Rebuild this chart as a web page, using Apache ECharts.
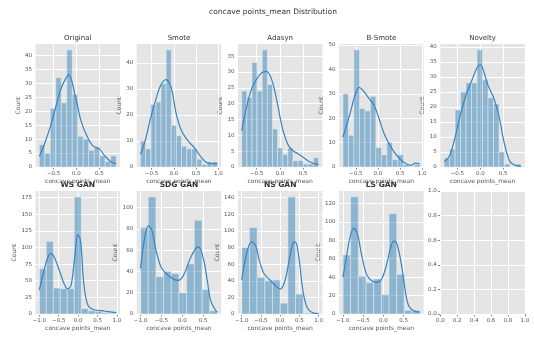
<!DOCTYPE html>
<html>
<head>
<meta charset="utf-8">
<script src="https://cdn.jsdelivr.net/npm/echarts@6/dist/echarts.min.js"></script>
<style>
  html, body { margin: 0; padding: 0; background: #ffffff; }
  #chart { width: 534px; height: 338px; }
</style>
</head>
<body>
<div id="chart"></div>
<script>
// Histogram counts per method (concave points_mean, scaled feature)
const panelTitles = ['Original', 'Smote', 'Adasyn', 'B-Smote', 'Novelty', 'WS GAN', 'SDG GAN', 'NS GAN', 'LS GAN'];
const binStart = [-0.811, -0.746, -0.819, -0.79, -0.79, -1.0, -1.0, -1.0, -1.0];
const binWidth = [0.12, 0.115, 0.11, 0.124, 0.12, 0.18, 0.184, 0.2, 0.19];

const countsOriginal = [8, 5, 21, 32, 23, 42, 26, 11, 10, 6, 7, 4, 2, 4];
const countsSmote    = [10, 7, 24, 25, 32, 45, 16, 12, 8, 7, 7, 3, 1, 2, 2];
const countsAdasyn   = [24, 22, 33, 24, 37, 26, 12, 6, 4, 6, 2, 2, 1, 1, 3];
const countsBSmote   = [30, 13, 48, 24, 23, 29, 8, 5, 10, 3, 5, 1, 0, 1];
const countsNovelty  = [3, 6, 19, 25, 28, 28, 39, 29, 23, 21, 5, 1, 0, 1];
const countsWSGAN    = [68, 109, 39, 38, 38, 176, 8, 5, 4, 2, 1];
const countsSDGGAN   = [81, 110, 35, 40, 38, 20, 47, 88, 23, 3];
const countsNSGAN    = [80, 104, 44, 40, 41, 13, 141, 24, 1, 1];
const countsLSGAN    = [64, 127, 41, 34, 38, 21, 109, 43, 4, 4];

// Density curves scaled to counts: [x, count]
const kdeOriginal = [[-0.811,3.8],[-0.685,8.9],[-0.574,14.3],[-0.463,20.8],[-0.352,27.4],[-0.241,31.5],[-0.167,33],[-0.019,25],[0.093,17],[0.204,12],[0.352,7.7],[0.5,6.5],[0.611,4.2],[0.759,1.8],[0.869,1.2]];
const kdeSmote = [[-0.746,4.9],[-0.638,10.3],[-0.523,18.6],[-0.408,25.6],[-0.292,31.4],[-0.177,33.6],[-0.062,30.8],[0.054,20.5],[0.169,14.1],[0.308,10.3],[0.462,7.4],[0.615,3.8],[0.769,1.5],[0.979,1.3]];
const kdeAdasyn = [[-0.819,11.5],[-0.717,18.8],[-0.609,24.6],[-0.5,27.7],[-0.391,29.8],[-0.283,30.1],[-0.167,27.2],[-0.058,20.4],[0.051,12.5],[0.167,7.3],[0.275,5.2],[0.384,4.2],[0.5,3.1],[0.609,1.9],[0.754,1.0],[0.831,0.8]];
const kdeBSmote = [[-0.79,12.3],[-0.64,21.2],[-0.515,29.5],[-0.425,32.6],[-0.312,30.8],[-0.2,28.1],[-0.087,25.3],[0.026,19.9],[0.139,13.7],[0.252,9.6],[0.365,6.2],[0.492,3.4],[0.628,1.4],[0.74,0.7],[0.853,1.6],[0.946,1.2]];
const kdeNovelty = [[-0.79,1.7],[-0.667,3.9],[-0.551,9.9],[-0.428,17.7],[-0.304,24.3],[-0.188,28.7],[-0.065,33.2],[0.0,34],[0.051,33],[0.174,27],[0.29,23.2],[0.413,16.6],[0.529,7.7],[0.652,1.7],[0.775,0.5],[0.89,0.2]];
const kdeWSGAN = [[-1.0,36],[-0.882,65],[-0.795,83],[-0.707,91],[-0.62,86],[-0.489,66],[-0.358,45],[-0.271,38],[-0.183,43],[-0.096,81],[-0.009,119],[0.061,111],[0.148,45],[0.253,13],[0.428,6],[0.603,5],[0.777,3.5],[0.98,2]];
const kdeSDGGAN = [[-1.0,42.6],[-0.918,67.8],[-0.811,83],[-0.73,79],[-0.631,60],[-0.508,44],[-0.385,38],[-0.221,33],[-0.098,31.5],[0.025,36],[0.189,52],[0.311,61],[0.393,63],[0.516,50],[0.598,31.5],[0.68,12.6],[0.803,3],[0.84,2]];
const kdeNSGAN = [[-1.0,41],[-0.892,68.5],[-0.75,86.7],[-0.642,82.7],[-0.542,64.5],[-0.417,48.4],[-0.25,40.3],[-0.083,32.3],[0.0,30],[0.125,40],[0.25,68.5],[0.333,84.7],[0.392,86.7],[0.475,72.6],[0.558,40],[0.625,20],[0.725,6],[0.875,1],[1.0,0.5]];
const kdeLSGAN = [[-1.0,39.7],[-0.917,61],[-0.817,85],[-0.733,92.8],[-0.642,86.6],[-0.542,65],[-0.417,43],[-0.292,36],[-0.167,34.3],[-0.042,38],[0.083,54],[0.192,74],[0.267,79.4],[0.35,74],[0.458,50.5],[0.542,25],[0.625,9],[0.75,3.6],[0.9,2]];

// Tick positions per panel (last entry is the empty axes)
const xTicks = [
  [-0.5, 0, 0.5], [-0.5, 0, 0.5, 1], [-0.5, 0, 0.5], [-0.5, 0, 0.5, 1], [-0.5, 0, 0.5],
  [-1, -0.5, 0, 0.5, 1], [-1, -0.5, 0, 0.5], [-1, -0.5, 0, 0.5, 1], [-1, -0.5, 0, 0.5], [0, 0.2, 0.4, 0.6, 0.8, 1]
];
const yTicks = [
  [0, 5, 10, 15, 20, 25, 30, 35, 40], [0, 10, 20, 30, 40], [0, 5, 10, 15, 20, 25, 30, 35],
  [0, 10, 20, 30, 40, 50], [0, 5, 10, 15, 20, 25, 30, 35, 40],
  [0, 25, 50, 75, 100, 125, 150, 175], [0, 20, 40, 60, 80, 100], [0, 20, 40, 60, 80, 100, 120, 140],
  [0, 20, 40, 60, 80, 100, 120], [0, 0.2, 0.4, 0.6, 0.8, 1]
];

const allCounts = [countsOriginal, countsSmote, countsAdasyn, countsBSmote, countsNovelty, countsWSGAN, countsSDGGAN, countsNSGAN, countsLSGAN];
const allKde = [kdeOriginal, kdeSmote, kdeAdasyn, kdeBSmote, kdeNovelty, kdeWSGAN, kdeSDGGAN, kdeNSGAN, kdeLSGAN];

const FONT = 'DejaVu Sans';
const TICK_COLOR = '#555555';
const BAR_FILL = 'rgba(31,119,180,0.45)';
const LINE_COLOR = '#3784c0';

const chart = echarts.init(document.getElementById('chart'), null, { renderer: 'canvas' });

const grids = [], xAxes = [], yAxes = [], series = [], graphics = [];
const colLeft = c => 35.5 + 101.2 * c;
const rowTop = [44, 191];
const W = 84.5, H = 123;

function fmt(decimals) {
  return v => Number(v).toFixed(decimals).replace('-', '\u2212');
}

for (let i = 0; i < 10; i++) {
  const r = Math.floor(i / 5), c = i % 5;
  const left = colLeft(c), top = rowTop[r];
  grids.push({ left, top, width: W, height: H, backgroundColor: '#E5E5E5', show: true, borderWidth: 0 });

  let xmin, xmax, ymax;
  if (i < 9) {
    const n = allCounts[i].length;
    const lo = binStart[i], hi = binStart[i] + n * binWidth[i];
    const pad = 0.05 * (hi - lo);
    xmin = lo - pad; xmax = hi + pad;
    ymax = 1.05 * Math.max(...allCounts[i]);
  } else {
    xmin = 0; xmax = 1; ymax = 1;
  }

  const isEmpty = i === 9;
  xAxes.push({
    type: 'value', gridIndex: i, min: xmin, max: xmax,
    axisLine: { show: false },
    axisTick: { show: true, customValues: xTicks[i], length: 2.5, lineStyle: { color: TICK_COLOR, width: 0.7 } },
    axisLabel: { customValues: xTicks[i], fontSize: 5.5, fontFamily: FONT, color: TICK_COLOR, margin: 3.5, formatter: fmt(1) },
    splitLine: { show: false },
    name: isEmpty ? '' : 'concave points_mean', nameLocation: 'middle', nameGap: 11,
    nameTextStyle: { fontSize: 6, fontFamily: FONT, color: TICK_COLOR }
  });
  yAxes.push({
    type: 'value', gridIndex: i, min: 0, max: ymax,
    axisLine: { show: false },
    axisTick: { show: true, customValues: yTicks[i], length: 2.5, lineStyle: { color: TICK_COLOR, width: 0.7 } },
    axisLabel: { customValues: yTicks[i], fontSize: 5.5, fontFamily: FONT, color: TICK_COLOR, margin: 3.5, formatter: fmt(isEmpty ? 1 : 0) },
    splitLine: { show: false },
    name: isEmpty ? '' : 'Count', nameLocation: 'middle', nameGap: 12,
    nameTextStyle: { fontSize: 6, fontFamily: FONT, color: TICK_COLOR }
  });

  // White grid lines at the tick positions (markLine keeps its default layer; bars sit above it)
  series.push({
    type: 'line', xAxisIndex: i, yAxisIndex: i, data: [], silent: true,
    markLine: {
      silent: true, symbol: 'none', animation: false,
      label: { show: false },
      lineStyle: { color: '#ffffff', width: 1, type: 'solid', opacity: 1 },
      emphasis: { disabled: true },
      data: xTicks[i].map(v => ({ xAxis: v })).concat(yTicks[i].map(v => ({ yAxis: v })))
    }
  });

  if (i < 9) {
    const bars = allCounts[i]
      .map((cnt, k) => [binStart[i] + k * binWidth[i], binStart[i] + (k + 1) * binWidth[i], cnt])
      .filter(d => d[2] > 0);
    series.push({
      type: 'custom', xAxisIndex: i, yAxisIndex: i, data: bars,
      encode: { x: [0, 1], y: 2 },
      renderItem: (params, api) => {
        const p0 = api.coord([api.value(0), api.value(2)]);
        const p1 = api.coord([api.value(1), 0]);
        return {
          type: 'rect',
          shape: { x: p0[0], y: p0[1], width: p1[0] - p0[0], height: p1[1] - p0[1] },
          style: { fill: BAR_FILL, stroke: 'rgba(240,240,240,0.85)', lineWidth: 0.6 }
        };
      },
      z: 8, silent: true
    });
    series.push({
      type: 'line', xAxisIndex: i, yAxisIndex: i, data: allKde[i],
      smooth: 0.35, symbol: 'none', silent: true,
      lineStyle: { color: LINE_COLOR, width: 1.2 }, z: 9
    });

    graphics.push({
      type: 'text', x: left + W / 2, y: top - 6,
      style: {
        text: panelTitles[i], fontSize: r === 0 ? 7 : 7.5, fontWeight: r === 0 ? 'normal' : 'bold',
        fontFamily: FONT, fill: '#333333', align: 'center', verticalAlign: 'middle'
      }
    });
  }
}

graphics.push({
  type: 'text', x: 273, y: 12,
  style: { text: 'concave points_mean Distribution', fontSize: 7.5, fontFamily: FONT, fill: '#333333', align: 'center', verticalAlign: 'middle' }
});

chart.setOption({
  animation: false,
  backgroundColor: '#ffffff',
  grid: grids,
  xAxis: xAxes,
  yAxis: yAxes,
  series: series,
  graphic: graphics
});
</script>
</body>
</html>
